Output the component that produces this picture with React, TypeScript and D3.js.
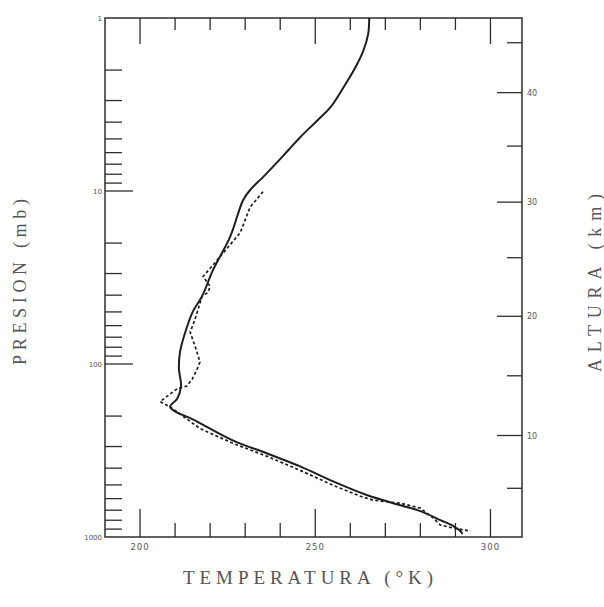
import {Component, createRef} from "react";
import * as d3 from 'd3'

// temperature axis ticks (K)
const tempMajor = [200, 250, 300]
const tempMinor = [210, 220, 230, 240, 260, 270, 280, 290]

// pressure axis ticks (mb)
const presMajor = [10, 100]
const presMinor = [2, 3, 4, 5, 6, 7, 8, 9, 20, 30, 40, 50, 60, 70, 80, 90,
    200, 300, 400, 500, 600, 700, 800, 900]
const presLabels = ['1', '10', '100', '1000']
const presLabelValues = [1, 10, 100, 1000]

// altitude axis (km) and the pressure where each tick sits
const altMajor = [10, 20, 30, 40]
const altMajorPres = [259, 53, 11.6, 2.7]
const altMinor = [5, 15, 25, 35, 45]
const altMinorPres = [523, 117, 24.3, 5.5, 1.39]

// solid profile
const solidTemp = [265.4, 265.1, 263.7, 261.4, 258.0, 254.3, 250.6, 245.7, 242.3, 238.9, 235.1,
    231.4, 229.4, 225.7, 220.9, 217.7, 215.1, 212.9, 211.4, 211.1, 211.7, 210.6, 208.6, 216.3, 226.6,
    236.3, 245.7, 255.1, 264.9, 274.3, 280.0, 285.7, 289.4, 291.4, 292.0]
const solidPres = [1, 1.24, 1.55, 1.94, 2.53, 3.29, 3.91, 4.89, 5.81, 6.9, 8.31,
    9.87, 11.3, 18.4, 28.4, 40.6, 49.6, 65.5, 85.3, 107, 134, 159, 177, 215, 277,
    329, 391, 477, 574, 655, 709, 799, 864, 924, 960]

// dashed profile
const dashedTemp = [235.1, 231.4, 228.6, 222.9, 218.0, 220.0, 219.4, 217.7, 215.7, 214.3, 215.7, 217.1,
    216.3, 214.9, 213.4, 210.6, 205.7, 208.6, 217.1, 226.6, 236.3, 245.7, 255.1, 262.9, 266.6, 274.3,
    280.0, 283.7, 285.7, 289.4, 294.3]
const dashedPres = [10.1, 12.4, 17.4, 23.9, 31.2, 35.6, 38.6, 40.6, 55.1, 65.5, 78.8, 97.4,
    107, 122, 134, 139, 165, 177, 236, 288, 342, 412, 503, 581, 613, 638,
    681, 778, 853, 888, 924]

class ProfileChart extends Component {
    constructor(props) {
        super(props);
        this.myRef = createRef()
        this.width = 604
        this.height = 607
        this.plot = {left: 105, right: 522, top: 18, bottom: 537}
    }

    componentDidMount() {
        this.paint()
    }

    paint = () => {
        let root = this.myRef.current
        d3.select(root).selectAll('*').remove()
        let p = this.plot
        let svg = d3.select(root)
        let ink = '#2e2e2e'
        let textCol = '#555'

        let x = d3.scaleLinear().domain([190, 309]).range([p.left, p.right])
        let y = d3.scaleLog().domain([1, 1000]).range([p.top, p.bottom])

        let g = svg.append('g')

        // frame
        g.append('rect')
            .attr('x', p.left).attr('y', p.top)
            .attr('width', p.right - p.left).attr('height', p.bottom - p.top)
            .attr('fill', 'none').attr('stroke', ink).attr('stroke-width', 1.5)

        // temperature ticks, bottom and top
        let tTicks = tempMajor.map(t => ({t, len: 28})).concat(tempMinor.map(t => ({t, len: 14})))
        g.selectAll('.tb').data(tTicks).enter().append('line')
            .attr('x1', d => x(d.t)).attr('x2', d => x(d.t))
            .attr('y1', p.bottom).attr('y2', d => p.bottom - d.len)
            .attr('stroke', ink).attr('stroke-width', 1.3)
        g.selectAll('.tt').data(tTicks).enter().append('line')
            .attr('x1', d => x(d.t)).attr('x2', d => x(d.t))
            .attr('y1', p.top).attr('y2', d => p.top + d.len - 2)
            .attr('stroke', ink).attr('stroke-width', 1.3)

        // pressure ticks, left
        let pTicks = presMajor.map(v => ({v, len: 28})).concat(presMinor.map(v => ({v, len: 17})))
        g.selectAll('.pl').data(pTicks).enter().append('line')
            .attr('x1', p.left).attr('x2', d => p.left + d.len)
            .attr('y1', d => y(d.v)).attr('y2', d => y(d.v))
            .attr('stroke', ink).attr('stroke-width', 1.3)

        // altitude ticks, right
        let aTicks = altMajorPres.map(v => ({v, len: 25})).concat(altMinorPres.map(v => ({v, len: 15})))
        g.selectAll('.ar').data(aTicks).enter().append('line')
            .attr('x1', p.right).attr('x2', d => p.right - d.len)
            .attr('y1', d => y(d.v)).attr('y2', d => y(d.v))
            .attr('stroke', ink).attr('stroke-width', 1.3)

        // tick labels
        let small = 'DejaVu Sans, sans-serif'
        g.selectAll('.tl').data(tempMajor).enter().append('text')
            .attr('x', d => x(d)).attr('y', p.bottom + 13)
            .attr('text-anchor', 'middle').attr('font-family', small)
            .attr('font-size', 8.5).attr('letter-spacing', 1).attr('fill', textCol)
            .text(d => d)
        g.selectAll('.plab').data(presLabelValues).enter().append('text')
            .attr('x', p.left - 3).attr('y', d => y(d) + 3)
            .attr('text-anchor', 'end').attr('font-family', small)
            .attr('font-size', 7).attr('fill', textCol)
            .text((d, i) => presLabels[i])
        g.selectAll('.alab').data(altMajor).enter().append('text')
            .attr('x', p.right + 5).attr('y', (d, i) => y(altMajorPres[i]) + 3)
            .attr('font-family', small)
            .attr('font-size', 8).attr('fill', textCol)
            .text(d => d)

        // profiles
        let line = d3.line()
            .x(d => x(d[0]))
            .y(d => y(d[1]))
        let solid = solidTemp.map((t, i) => [t, solidPres[i]])
        let dashed = dashedTemp.map((t, i) => [t, dashedPres[i]])
        g.append('path')
            .attr('d', line.curve(d3.curveCatmullRom.alpha(0.5))(solid))
            .attr('fill', 'none').attr('stroke', '#1e1e1e').attr('stroke-width', 2)
        g.append('path')
            .attr('d', line.curve(d3.curveLinear)(dashed))
            .attr('fill', 'none').attr('stroke', '#1e1e1e').attr('stroke-width', 1.7)
            .attr('stroke-dasharray', '3,2.4')

        // axis titles
        let serif = 'Liberation Serif, DejaVu Serif, serif'
        g.append('text')
            .attr('x', 308).attr('y', 584)
            .attr('text-anchor', 'middle').attr('font-family', serif)
            .attr('font-size', 19).attr('fill', textCol)
            .attr('textLength', 250).attr('lengthAdjust', 'spacing')
            .text('TEMPERATURA (°K)')
        g.append('text')
            .attr('transform', 'translate(26 282) rotate(-90)')
            .attr('text-anchor', 'middle').attr('font-family', serif)
            .attr('font-size', 18).attr('fill', textCol)
            .attr('textLength', 166).attr('lengthAdjust', 'spacing')
            .text('PRESION (mb)')
        g.append('text')
            .attr('transform', 'translate(601 283) rotate(-90)')
            .attr('text-anchor', 'middle').attr('font-family', serif)
            .attr('font-size', 18).attr('fill', textCol)
            .attr('textLength', 178).attr('lengthAdjust', 'spacing')
            .text('ALTURA (km)')
    }

    render() {
        return (
            <svg ref={this.myRef} width={this.width} height={this.height}
                 style={{position: 'absolute', left: 0, top: 0, background: 'white'}}/>
        )
    }
}

export default function App() {
    return <ProfileChart/>
}
